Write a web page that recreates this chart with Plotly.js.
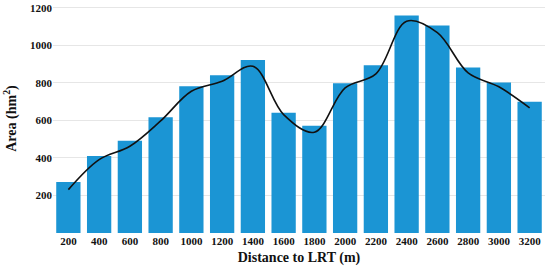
<!DOCTYPE html>
<html>
<head>
<meta charset="utf-8">
<script src="https://cdn.plot.ly/plotly-3.0.1.min.js"></script>
<style>html,body{margin:0;padding:0;background:#fff;}#chart{width:550px;height:277px;}</style>
</head>
<body>
<div id="chart"></div>
<script>
const distances = ["200","400","600","800","1000","1200","1400","1600","1800","2000","2200","2400","2600","2800","3000","3200"];
const areaValues = [272, 410, 492, 617, 782, 840, 921, 640, 572, 798, 894, 1159, 1106, 882, 802, 699];
const trendValues = [231, 391, 462, 597, 755, 808, 888, 631, 537, 773, 848, 1128, 1067, 853, 779, 667];
const yTicks = [200, 400, 600, 800, 1000, 1200];

const fontFam = "Liberation Serif";

const traces = [
  {
    type: "bar",
    x: distances,
    y: areaValues,
    marker: {color: "#1b95d4"},
    hoverinfo: "skip"
  },
  {
    type: "scatter",
    mode: "lines",
    x: distances,
    y: trendValues,
    line: {color: "#111111", width: 1.6, shape: "spline", smoothing: 1},
    hoverinfo: "skip"
  }
];

const layout = {
  width: 550,
  height: 277,
  margin: {l: 53, r: 5, t: 4, b: 44},
  paper_bgcolor: "#ffffff",
  plot_bgcolor: "#ffffff",
  showlegend: false,
  bargap: 0.21,
  font: {family: fontFam, color: "#111111", size: 11, weight: "bold"},
  xaxis: {
    type: "category",
    showgrid: false,
    showline: false,
    zeroline: false,
    ticks: "",
    tickfont: {family: fontFam, size: 11, color: "#111111", weight: "bold"},
    title: {text: "Distance to LRT (m)", font: {family: fontFam, size: 14, color: "#111111", weight: "bold"}, standoff: 6}
  },
  yaxis: {
    range: [0, 1220],
    tickvals: yTicks,
    ticktext: yTicks.map(String),
    showgrid: true,
    gridcolor: "#e6e6e6",
    gridwidth: 1,
    showline: false,
    zeroline: false,
    ticks: "",
    tickfont: {family: fontFam, size: 11, color: "#111111", weight: "bold"},
    title: {text: "Area (hm<sup>2</sup>)", font: {family: fontFam, size: 14, color: "#111111", weight: "bold"}, standoff: 10}
  }
};

Plotly.newPlot("chart", traces, layout, {displayModeBar: false, staticPlot: true});
</script>
</body>
</html>
